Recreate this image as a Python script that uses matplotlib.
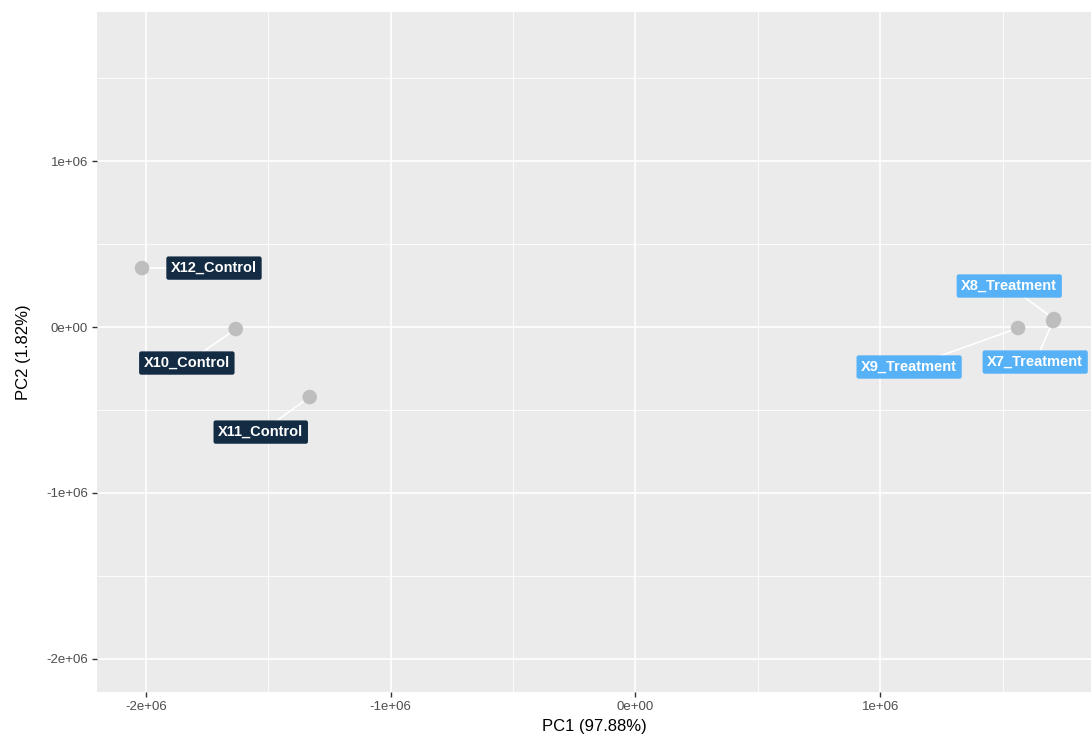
import matplotlib
matplotlib.use('Agg')
import matplotlib.pyplot as plt
import numpy as np

plt.rcParams['font.family'] = ['Liberation Sans', 'DejaVu Sans']

# PCA scores
samples = ['X12_Control', 'X10_Control', 'X11_Control', 'X9_Treatment', 'X8_Treatment', 'X7_Treatment']
pc1 = [-2.016e6, -1.633e6, -1.331e6, 1.563e6, 1.710e6, 1.706e6]
pc2 = [0.355e6, -0.012e6, -0.422e6, -0.006e6, 0.048e6, 0.036e6]
group = ['Control', 'Control', 'Control', 'Treatment', 'Treatment', 'Treatment']
# repelled label positions
label_x = [-1.722e6, -1.833e6, -1.531e6, 1.118e6, 1.527e6, 1.633e6]
label_y = [0.355e6, -0.217e6, -0.633e6, -0.241e6, 0.247e6, -0.211e6]

group_colors = {'Control': '#132B43', 'Treatment': '#56B1F7'}

fig = plt.figure(figsize=(10.91, 7.37), dpi=100)
ax = fig.add_axes([97 / 1091, 45 / 737, 994 / 1091, 680 / 737])
ax.set_facecolor('#EBEBEB')

ax.set_xlim(-2.2e6, 1.861e6)
ax.set_ylim(-2.199e6, 1.898e6)

xt = [-2e6, -1e6, 0, 1e6]
yt = [-2e6, -1e6, 0, 1e6]
ax.set_xticks(xt)
ax.set_xticklabels(['-2e+06', '-1e+06', '0e+00', '1e+06'])
ax.set_yticks(yt)
ax.set_yticklabels(['-2e+06', '-1e+06', '0e+00', '1e+06'])
ax.set_xticks([-1.5e6, -0.5e6, 0.5e6, 1.5e6], minor=True)
ax.set_yticks([-1.5e6, -0.5e6, 0.5e6, 1.5e6], minor=True)

ax.grid(True, which='major', color='white', linewidth=1.2)
ax.grid(True, which='minor', color='white', linewidth=0.6)
ax.set_axisbelow(True)
for s in ax.spines.values():
    s.set_visible(False)
ax.tick_params(which='major', length=3.5, width=1, color='#333333',
               labelcolor='#4D4D4D', labelsize=9.5, pad=3)
ax.tick_params(which='minor', length=0)

# connector segments
for x0, y0, lx, ly in zip(pc1, pc2, label_x, label_y):
    ax.plot([x0, lx], [y0, ly], color='white', linewidth=1.2, zorder=2)

ax.scatter(pc1, pc2, s=110, color='#BEBEBE', edgecolors='none', zorder=3)

for name, lx, ly, g in zip(samples, label_x, label_y, group):
    ax.text(lx, ly, name, ha='center', va='center', color='white',
            fontsize=10.5, fontweight='bold', zorder=4,
            bbox=dict(boxstyle='round,pad=0.32,rounding_size=0.15',
                      facecolor=group_colors[g], edgecolor='none'))

ax.set_xlabel('PC1 (97.88%)', fontsize=12, color='black', labelpad=4)
ax.set_ylabel('PC2 (1.82%)', fontsize=12, color='black', labelpad=11)

fig.savefig('out.png', dpi=100)
